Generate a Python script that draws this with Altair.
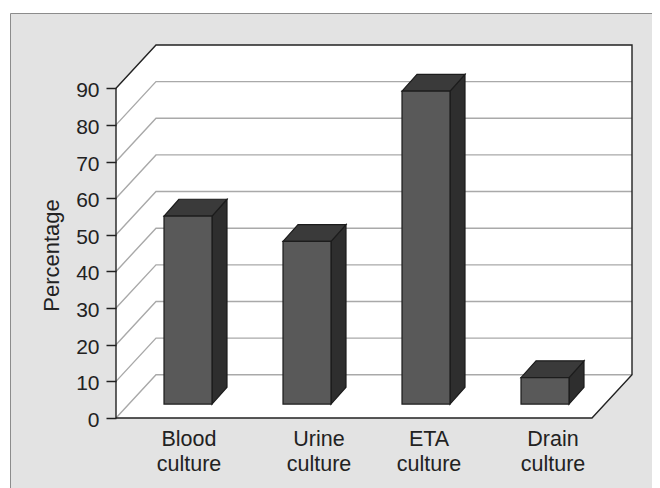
import altair as alt
import pandas as pd

categories = ["Blood\nculture", "Urine\nculture", "ETA\nculture", "Drain\nculture"]
values = [51.3, 44.4, 85.4, 7.2]
y_ticks = [0, 10, 20, 30, 40, 50, 60, 70, 80, 90]
y_title = "Percentage"

# layout, in scale units (x: pixels from the axis, y: percentage points)
W, H = 516, 373
FLOOR_W = 476
SLOT = FLOOR_W / len(categories)
DEPTH_X, DEPTH_Y = 40, 11.8          # wall depth
BAR_W = 48
BAR_SHIFT_X, BAR_SHIFT_Y = 12.5, 3.8  # bars stand part-way back on the floor
BAR_DX, BAR_DY = 15, 4.6             # bar depth
LABEL_NUDGE = [1, 12, 3, 8]
YMAX = 101.8
TOP = 90

INK = "#222222"
GRID = "#a9a9a9"

xs = alt.Scale(domain=[0, W], nice=False, zero=False)
ys = alt.Scale(domain=[0, YMAX], nice=False, zero=False)
y_axis = alt.Axis(
    values=y_ticks, title=y_title, grid=False, domain=False, zindex=1,
    tickSize=10, tickColor=INK, tickWidth=1.5,
    labelFontSize=21, labelColor=INK, labelFont="Liberation Sans", labelPadding=7, labelOffset=2.5,
    titleFontSize=22, titleColor=INK, titleFont="Liberation Sans", titleFontWeight="normal",
    titleX=-57.5, titleY=210, titleAlign="center", titleBaseline="alphabetic",
)
X = lambda f: alt.X(f, type="quantitative", scale=xs, axis=None)
Y = lambda f: alt.Y(f, type="quantitative", scale=ys, axis=y_axis)

# background panel (only its left and top edges fall inside the page)
panel = alt.Chart(pd.DataFrame({"a": [0]})).mark_rect(
    color="#e3e3e3", stroke="#8c8c8c", strokeWidth=1
).encode(x=alt.value(-105.5), x2=alt.value(560), y=alt.value(-31.5), y2=alt.value(460))

# white walls and floor
wall_df = pd.DataFrame({
    "x": [0, DEPTH_X, FLOOR_W, W],
    "lo": [0, 0, 0, DEPTH_Y],
    "hi": [TOP, TOP + DEPTH_Y, TOP + DEPTH_Y, TOP + DEPTH_Y],
})
wall = alt.Chart(wall_df).mark_area(color="white", opacity=1).encode(
    x=X("x"), y=Y("lo"), y2="hi",
)

# gridlines: diagonal on the left wall, then along the back wall
grid_rows = []
for t in y_ticks[:-1]:
    grid_rows += [
        {"t": t, "o": 0, "x": 0, "y": t},
        {"t": t, "o": 1, "x": DEPTH_X, "y": t + DEPTH_Y},
        {"t": t, "o": 2, "x": W, "y": t + DEPTH_Y},
    ]
grid = alt.Chart(pd.DataFrame(grid_rows)).mark_line(color=GRID, strokeWidth=1.4).encode(
    x=X("x"), y=Y("y"), detail="t:N", order="o:Q"
)

# dark outline
outline_pts = [(0, TOP), (DEPTH_X, TOP + DEPTH_Y), (W, TOP + DEPTH_Y), (W, DEPTH_Y),
               (FLOOR_W, 0), (0, 0), (0, TOP)]
outline_df = pd.DataFrame([{"o": i, "x": p[0], "y": p[1]} for i, p in enumerate(outline_pts)])
outline = alt.Chart(outline_df).mark_line(color=INK, strokeWidth=1.4).encode(
    x=X("x"), y=Y("y"), order="o:Q"
)

# bars
bar_rows, side_rows, top_rows = [], [], []
for i, (c, v) in enumerate(zip(categories, values)):
    x0 = SLOT * (i + 0.5) + BAR_SHIFT_X - BAR_W / 2
    x1 = x0 + BAR_W
    base, head = BAR_SHIFT_Y, BAR_SHIFT_Y + v
    bar_rows.append({"x0": x0, "x1": x1, "base": base, "head": head})
    side_rows += [
        {"b": i, "x": x1, "lo": base, "hi": head},
        {"b": i, "x": x1 + BAR_DX, "lo": base + BAR_DY, "hi": head + BAR_DY},
    ]
    top_rows += [
        {"b": i, "y": head, "l": x0, "r": x1},
        {"b": i, "y": head + BAR_DY, "l": x0 + BAR_DX, "r": x1 + BAR_DX},
    ]

side = alt.Chart(pd.DataFrame(side_rows)).mark_area(
    color="#2e2e2e", stroke="#1c1c1c", strokeWidth=1.2, opacity=1
).encode(x=X("x"), y=Y("lo"), y2="hi", detail="b:N")

top = alt.Chart(pd.DataFrame(top_rows)).mark_area(
    orient="horizontal", color="#3a3a3a", stroke="#1c1c1c", strokeWidth=1.2, opacity=1
).encode(y=Y("y"), x=X("l"), x2="r", detail="b:N")

front = alt.Chart(pd.DataFrame(bar_rows)).mark_rect(
    color="#595959", stroke="#1c1c1c", strokeWidth=1.2
).encode(x=X("x0"), x2="x1", y=Y("base"), y2="head")

# category labels
label_df = pd.DataFrame({
    "label": categories,
    "x": [SLOT * (i + 0.5) + BAR_SHIFT_X + LABEL_NUDGE[i] for i in range(len(categories))],
})
labels = alt.Chart(label_df).mark_text(
    font="Liberation Sans", fontSize=21.5, color=INK, lineBreak="\n", lineHeight=25,
    align="center", baseline="alphabetic", dy=0
).encode(x=X("x"), y=alt.value(401), text="label:N")

chart = alt.layer(panel, wall, grid, outline, side, top, front, labels).properties(
    width=W,
    height=H,
    background="white",
    autosize=alt.AutoSizeParams(type="none"),
    padding={"left": 108, "top": 37, "right": 20, "bottom": 70},
).configure_view(stroke=None)

chart.save("out.html", embed_options={"renderer": "svg", "actions": False})
